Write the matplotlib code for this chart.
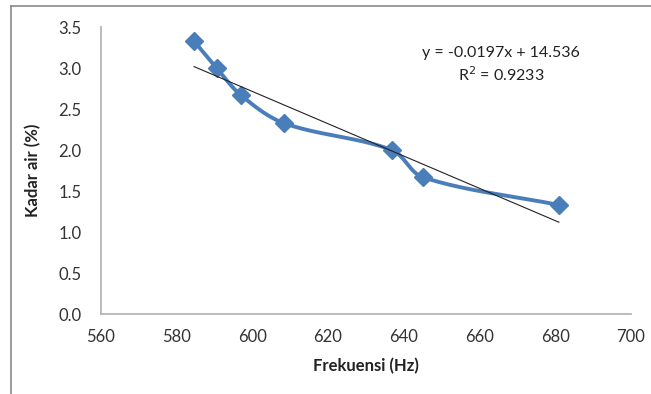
import numpy as np
import matplotlib
matplotlib.use("Agg")
import matplotlib.pyplot as plt
from matplotlib.lines import Line2D

# Data
freq = [584.6, 590.6, 597.0, 608.3, 636.9, 645.0, 681.0]
kadar_air = [3.33, 3.00, 2.67, 2.33, 2.00, 1.67, 1.33]
trend_slope = -0.0197
trend_intercept = 14.536
x_ticks = [560, 580, 600, 620, 640, 660, 680, 700]
y_ticks = [0.0, 0.5, 1.0, 1.5, 2.0, 2.5, 3.0, 3.5]
eq_text = "y = -0.0197x + 14.536"
r2_text = "R$^2$ = 0.9233"

XMIN, XMAX, YMIN, YMAX = 560, 700, 0, 3.5
AX_W_PX, AX_H_PX = 530.0, 287.0

def smooth_curve(x, y, n=40, k=1/3.0):
    # Smoothed line (cubic Bezier, length-weighted tangents) in screen space
    X = (np.asarray(x, float) - XMIN) / (XMAX - XMIN) * AX_W_PX
    Y = (np.asarray(y, float) - YMIN) / (YMAX - YMIN) * AX_H_PX
    P = np.column_stack([X, Y])
    P = np.vstack([P[0], P, P[-1]])
    out = []
    t = np.linspace(0, 1, n)[:, None]
    for i in range(1, len(P) - 2):
        p0, p1, p2, p3 = P[i-1], P[i], P[i+1], P[i+2]
        d01 = np.linalg.norm(p1 - p0)
        d12 = np.linalg.norm(p2 - p1)
        d23 = np.linalg.norm(p3 - p2)
        w1 = d12 / (d01 + d12) if d01 + d12 > 0 else 0
        w2 = d12 / (d12 + d23) if d12 + d23 > 0 else 0
        c1 = p1 + (p2 - p0) * w1 * k
        c2 = p2 - (p3 - p1) * w2 * k
        b = ((1-t)**3)*p1 + 3*((1-t)**2)*t*c1 + 3*(1-t)*(t**2)*c2 + (t**3)*p2
        out.append(b)
    B = np.vstack(out)
    bx = B[:, 0] / AX_W_PX * (XMAX - XMIN) + XMIN
    by = B[:, 1] / AX_H_PX * (YMAX - YMIN) + YMIN
    return bx, by

plt.rcParams['font.family'] = ['Lato', 'DejaVu Sans']

fig = plt.figure(figsize=(6.51, 3.94), dpi=100)
ax = fig.add_axes([0.155, 0.203, 0.814, 0.728])

blue = '#4A7EBB'
sx, sy = smooth_curve(freq, kadar_air)
ax.plot(sx, sy, color=blue, lw=2.8, solid_capstyle='round', zorder=3)
ax.plot(freq, kadar_air, linestyle='none', marker='D', markersize=9.5,
        color=blue, zorder=4)

tx = np.array([min(freq), max(freq)])
ax.plot(tx, trend_slope*tx + trend_intercept, color='#222222', lw=0.8, zorder=5)

ax.set_xlim(XMIN, XMAX)
ax.set_ylim(YMIN, YMAX)
ax.set_xticks(x_ticks)
ax.set_yticks(y_ticks)
ax.set_xticklabels([str(v) for v in x_ticks])
ax.set_yticklabels([f"{v:.1f}" for v in y_ticks])
ax.tick_params(length=0, labelsize=12, colors='#333333', pad=11)
ax.tick_params(axis='y', pad=14)
for s in ['top', 'right']:
    ax.spines[s].set_visible(False)
for s in ['left', 'bottom']:
    ax.spines[s].set_color('#B5B5B5')
    ax.spines[s].set_linewidth(1.3)

ax.set_xlabel("Frekuensi (Hz)", fontsize=12, fontweight='bold', labelpad=9, color='#222222')
ax.set_ylabel("Kadar air (%)", fontsize=12, fontweight='bold', labelpad=12, color='#222222')

ax.text(0.755, 0.91, eq_text, transform=ax.transAxes, ha='center', va='center',
        fontsize=11.5, color='#222222')
ax.text(0.755, 0.833, r2_text, transform=ax.transAxes, ha='center', va='center',
        fontsize=11.5, color='#222222')

# Outer frame (partially visible in the reference)
fig.add_artist(Line2D([10.5/651, 1.0], [1-5.5/394, 1-5.5/394], transform=fig.transFigure,
                      color='#8A8A8A', lw=1.2))
fig.add_artist(Line2D([10.5/651, 10.5/651], [0, 1-5.5/394], transform=fig.transFigure,
                      color='#8A8A8A', lw=1.2))

fig.savefig("out.png", dpi=100, facecolor='white')
